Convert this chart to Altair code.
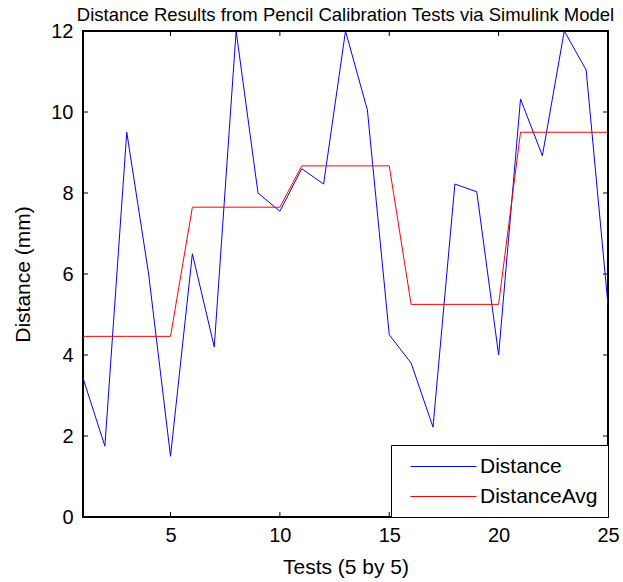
import altair as alt
import pandas as pd

tests = list(range(1, 26))
distance = [3.43, 1.75, 9.5, 6.0, 1.5,
            6.5, 4.2, 12.0, 8.0, 7.55,
            8.6, 8.22, 12.0, 10.05, 4.5,
            3.8, 2.22, 8.22, 8.03, 4.0,
            10.32, 8.92, 12.0, 11.04, 5.23]
distance_avg = [4.46] * 5 + [7.65] * 5 + [8.67] * 5 + [5.25] * 5 + [9.5] * 5
series_names = ["Distance", "DistanceAvg"]
series_colors = ["#0000ff", "#ff0000"]
x_ticks = [5, 10, 15, 20, 25]
y_ticks = [0, 2, 4, 6, 8, 10, 12]

df = pd.DataFrame({
    "test": tests * 2,
    "value": distance + distance_avg,
    "series": [series_names[0]] * 25 + [series_names[1]] * 25,
})
xt = pd.DataFrame({"t": x_ticks})
yt = pd.DataFrame({"t": y_ticks})

W, H = 525, 486
FONT = "Liberation Sans"

xscale = alt.Scale(domain=[1, 25], nice=False, zero=False)
yscale = alt.Scale(domain=[0, 12], nice=False)

lines = alt.Chart(df).mark_line(strokeWidth=1, clip=True).encode(
    x=alt.X("test:Q", scale=xscale, title="Tests (5 by 5)",
            axis=alt.Axis(values=x_ticks, ticks=False, domain=False, grid=False,
                          labelFlush=False, labelPadding=8, titlePadding=11)),
    y=alt.Y("value:Q", scale=yscale, title="Distance (mm)",
            axis=alt.Axis(values=y_ticks, ticks=False, domain=False, grid=False,
                          labelFlush=False, labelPadding=10, titlePadding=17)),
    color=alt.Color("series:N",
                    scale=alt.Scale(domain=series_names, range=series_colors),
                    legend=alt.Legend(title=None, orient="bottom-right", offset=0,
                                      strokeColor="black", fillColor="white",
                                      padding=10, symbolType="M-3,0H3",
                                      symbolSize=484, symbolStrokeWidth=1,
                                      symbolOffset=31,
                                      labelFontSize=21, labelFont=FONT,
                                      labelOffset=25, rowPadding=8,
                                      labelColor="black")),
)

xb = alt.Chart(xt).mark_rule(color="black", strokeWidth=1).encode(
    x=alt.X("t:Q", scale=xscale), y=alt.value(H), y2=alt.value(H - 5))
xtop = alt.Chart(xt).mark_rule(color="black", strokeWidth=1).encode(
    x=alt.X("t:Q", scale=xscale), y=alt.value(0), y2=alt.value(5))
yl = alt.Chart(yt).mark_rule(color="black", strokeWidth=1).encode(
    y=alt.Y("t:Q", scale=yscale), x=alt.value(0), x2=alt.value(5))
yr = alt.Chart(yt).mark_rule(color="black", strokeWidth=1).encode(
    y=alt.Y("t:Q", scale=yscale), x=alt.value(W), x2=alt.value(W - 5))

chart = alt.layer(xb, xtop, yl, yr, lines).properties(
    width=W, height=H,
    title=alt.TitleParams("Distance Results from Pencil Calibration Tests via Simulink Model",
                          fontSize=18.5, fontWeight="normal", font=FONT, offset=-3,
                          anchor="middle", color="black"),
    autosize=alt.AutoSizeParams(type="none"),
    padding={"left": 83, "top": 31, "right": 15, "bottom": 65},
).configure(background="white").configure_view(
    stroke="black", strokeWidth=2
).configure_axis(
    labelFont=FONT, titleFont=FONT, labelFontSize=20, titleFontSize=21,
    titleFontWeight="normal", labelColor="black", titleColor="black"
)

chart.save("out.html", embed_options={"renderer": "svg", "actions": False})
